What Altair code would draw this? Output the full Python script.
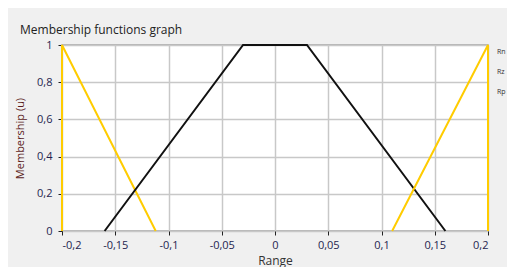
import altair as alt
import pandas as pd

series_names = ["Rn", "Rz", "Rp"]
rn_x = [-0.2, -0.2, -0.112]
rn_y = [0, 1, 0]
rz_x = [-0.16, -0.03, 0.03, 0.16]
rz_y = [0, 1, 1, 0]
rp_x = [0.11, 0.2, 0.2]
rp_y = [0, 1, 0]
x_ticks = [-0.2, -0.15, -0.1, -0.05, 0, 0.05, 0.1, 0.15, 0.2]
y_ticks = [0, 0.2, 0.4, 0.6, 0.8, 1]

rows = []
for name, xs, ys in zip(series_names, [rn_x, rz_x, rp_x], [rn_y, rz_y, rp_y]):
    for i, (xv, yv) in enumerate(zip(xs, ys)):
        rows.append({"series": name, "x": xv, "y": yv, "order": i})
df = pd.DataFrame(rows)

yellow = "#ffcc00"
label_expr = "replace(replace(format(datum.value, '~g'), '.', ','), '\u2212', '-')"

chart = alt.Chart(df).mark_line(strokeWidth=2).encode(
    x=alt.X("x:Q", scale=alt.Scale(domain=[-0.2, 0.2], nice=False),
            axis=alt.Axis(values=x_ticks, labelExpr=label_expr, title="Range",
                          titlePadding=5, titleFontSize=12, titleColor="#333333",
                          titleFontWeight="normal")),
    y=alt.Y("y:Q", scale=alt.Scale(domain=[0, 1], nice=False),
            axis=alt.Axis(values=y_ticks, labelExpr=label_expr, title="Membership (u)",
                          titleFontSize=11, titleColor="#5a1a1a", titleFontWeight="normal",
                          titleX=-42, titleY=93, titleAlign="center", titleBaseline="middle",
                          labelPadding=6)),
    color=alt.Color("series:N", scale=alt.Scale(domain=series_names, range=[yellow, "#111111", yellow]),
                    legend=alt.Legend(title=None, orient="none", legendX=428, legendY=3,
                                      symbolSize=0, symbolStrokeWidth=0, labelOffset=0,
                                      labelFontSize=7, labelColor="#333333", rowPadding=12,
                                      padding=0)),
    detail="series:N",
    order="order:Q",
).properties(
    width=426,
    height=186,
    title=alt.TitleParams("Membership functions graph", anchor="start", frame="group",
                          dx=-42, fontSize=12, fontWeight="normal", color="#222222",
                          font="Open Sans", offset=2),
    autosize=alt.AutoSizeParams(type="none"),
    padding={"left": 54, "top": 37, "right": 19, "bottom": 46},
    background="#f0f0f0",
).configure_view(
    fill="white", stroke="#a0a0a0", strokeWidth=1.5
).configure_axis(
    domain=False, grid=True, gridColor="#c8c8c8", gridWidth=1.5,
    tickColor="#222222", tickSize=4, labelFont="Open Sans", titleFont="Open Sans",
    labelFontSize=11, labelColor="#1f1f4f", labelPadding=4
).configure_legend(labelFont="Open Sans")

chart.save("out.html", embed_options={"renderer": "svg", "actions": False})
